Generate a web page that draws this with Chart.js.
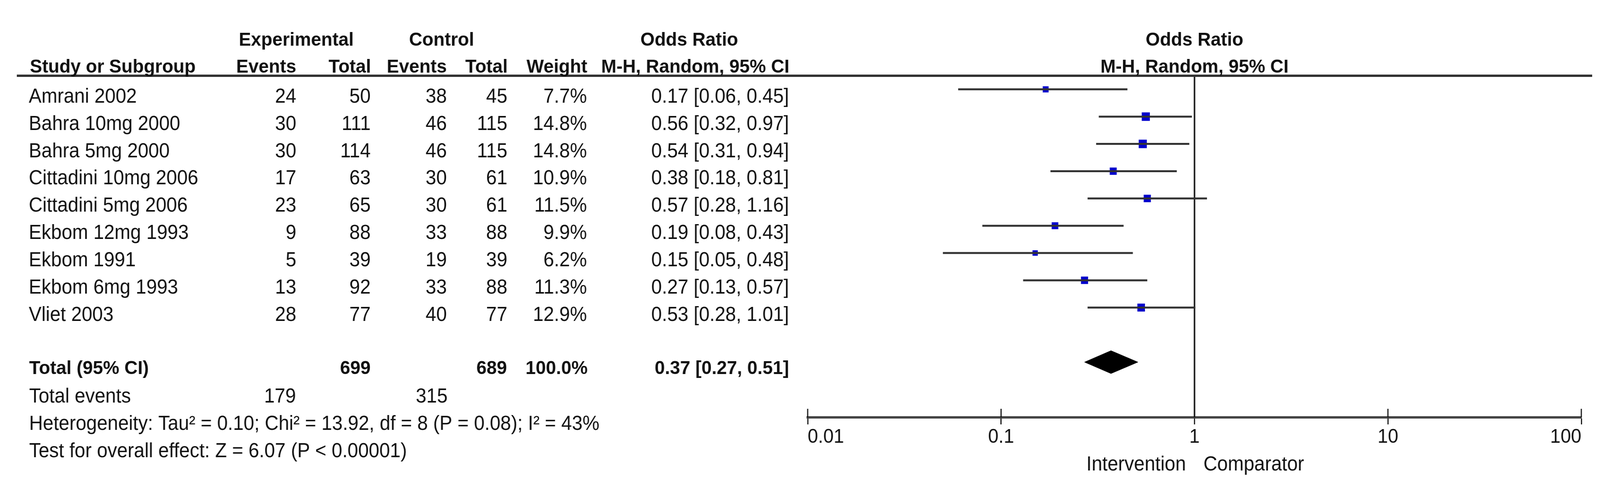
<!DOCTYPE html>
<html>
<head>
<meta charset="utf-8">
<script src="https://cdn.jsdelivr.net/npm/chart.js@4.4.1/dist/chart.umd.min.js"></script>
<style>
  html, body { margin: 0; padding: 0; background: #fff; overflow: hidden; }
  canvas { display: block; }
</style>
</head>
<body>
<canvas id="forest" width="4283" height="1255" style="width:100vw;height:100vh"></canvas>
<script>
// Forest plot data
const studies = ['Amrani 2002', 'Bahra 10mg 2000', 'Bahra 5mg 2000', 'Cittadini 10mg 2006',
  'Cittadini 5mg 2006', 'Ekbom 12mg 1993', 'Ekbom 1991', 'Ekbom 6mg 1993', 'Vliet 2003'];
const expEvents = [24, 30, 30, 17, 23, 9, 5, 13, 28];
const expTotal = [50, 111, 114, 63, 65, 88, 39, 92, 77];
const ctrlEvents = [38, 46, 46, 30, 30, 33, 19, 33, 40];
const ctrlTotal = [45, 115, 115, 61, 61, 88, 39, 88, 77];
const weights = [7.7, 14.8, 14.8, 10.9, 11.5, 9.9, 6.2, 11.3, 12.9];
const orEst = [0.17, 0.56, 0.54, 0.38, 0.57, 0.19, 0.15, 0.27, 0.53];
const orLow = [0.06, 0.32, 0.31, 0.18, 0.28, 0.08, 0.05, 0.13, 0.28];
const orHigh = [0.45, 0.97, 0.94, 0.81, 1.16, 0.43, 0.48, 0.57, 1.01];

// pooled estimate [est, low, high] and totals
const pooled = [0.37, 0.27, 0.51];
const totalsRow = ['699', '689', '100.0%'];
const totalEvents = ['179', '315'];
const heterogeneity = 'Heterogeneity: Tau\u00b2 = 0.10; Chi\u00b2 = 13.92, df = 8 (P = 0.08); I\u00b2 = 43%';
const overallEffect = 'Test for overall effect: Z = 6.07 (P < 0.00001)';

const xTicks = [0.01, 0.1, 1, 10, 100];
const xTickLabels = ['0.01', '0.1', '1', '10', '100'];

const FONT = "'Liberation Sans', Arial, sans-serif";
const TOTAL_ROW = 10;

const fmt = v => v.toFixed(2);

function text(ctx, s, x, y, align, bold) {
    ctx.font = bold ? 'bold 49px ' + FONT : '51px ' + FONT;
    ctx.textAlign = align;
    ctx.textBaseline = 'alphabetic';
    ctx.fillStyle = '#111';
    ctx.fillText(s, x, y);
}

// Draws the table on the left, header rule, line of no effect
const tablePlugin = {
    id: 'forestTable',
    beforeDraw(chart) {
        const ctx = chart.ctx;
        ctx.save();
        ctx.fillStyle = '#fff';
        ctx.fillRect(0, 0, chart.width, chart.height);
        ctx.restore();
    },
    beforeDatasetsDraw(chart) {
        const ctx = chart.ctx;
        const xs = chart.scales.x;
        const area = chart.chartArea;
        const x1 = xs.getPixelForValue(1);
        ctx.save();
        // line of no effect
        ctx.strokeStyle = '#111';
        ctx.lineWidth = 4;
        ctx.beginPath();
        ctx.moveTo(x1, area.top);
        ctx.lineTo(x1, area.bottom);
        ctx.stroke();
        // tick marks above the axis
        ctx.strokeStyle = '#111';
        ctx.lineWidth = 3;
        xTicks.forEach(v => {
            const px = xs.getPixelForValue(v);
            ctx.beginPath();
            ctx.moveTo(px, area.bottom);
            ctx.lineTo(px, area.bottom - 22);
            ctx.stroke();
        });
        ctx.restore();
    },
    afterDraw(chart) {
        const ctx = chart.ctx;
        const xs = chart.scales.x;
        const ys = chart.scales.y;
        const area = chart.chartArea;
        const x1 = xs.getPixelForValue(1);
        const base = i => ys.getPixelForValue(i) + 34;
        ctx.save();

        // header rule
        ctx.strokeStyle = '#333';
        ctx.lineWidth = 6;
        ctx.beginPath();
        ctx.moveTo(45, area.top);
        ctx.lineTo(4262, area.top);
        ctx.stroke();

        // headers
        text(ctx, 'Experimental', 793, 117, 'center', true);
        text(ctx, 'Control', 1182, 117, 'center', true);
        text(ctx, 'Odds Ratio', 1845, 117, 'center', true);
        text(ctx, 'Odds Ratio', x1, 117, 'center', true);
        text(ctx, 'Study or Subgroup', 80, 186, 'left', true);
        text(ctx, 'Events', 793, 186, 'right', true);
        text(ctx, 'Total', 993, 186, 'right', true);
        text(ctx, 'Events', 1196, 186, 'right', true);
        text(ctx, 'Total', 1359, 186, 'right', true);
        text(ctx, 'Weight', 1572, 186, 'right', true);
        text(ctx, 'M-H, Random, 95% CI', 2113, 186, 'right', true);
        text(ctx, 'M-H, Random, 95% CI', x1, 186, 'center', true);

        // study rows
        studies.forEach((s, i) => {
            const b = base(i);
            text(ctx, s, 77, b, 'left', false);
            text(ctx, String(expEvents[i]), 793, b, 'right', false);
            text(ctx, String(expTotal[i]), 992, b, 'right', false);
            text(ctx, String(ctrlEvents[i]), 1196, b, 'right', false);
            text(ctx, String(ctrlTotal[i]), 1358, b, 'right', false);
            text(ctx, weights[i].toFixed(1) + '%', 1571, b, 'right', false);
            text(ctx, fmt(orEst[i]) + ' [' + fmt(orLow[i]) + ', ' + fmt(orHigh[i]) + ']', 2112, b, 'right', false);
        });

        // total row
        const bt = base(TOTAL_ROW) - 3;
        text(ctx, 'Total (95% CI)', 78, bt, 'left', true);
        text(ctx, totalsRow[0], 992, bt, 'right', true);
        text(ctx, totalsRow[1], 1357, bt, 'right', true);
        text(ctx, totalsRow[2], 1573, bt, 'right', true);
        text(ctx, fmt(pooled[0]) + ' [' + fmt(pooled[1]) + ', ' + fmt(pooled[2]) + ']', 2112, bt, 'right', true);

        text(ctx, 'Total events', 78, base(11), 'left', false);
        text(ctx, totalEvents[0], 792, base(11), 'right', false);
        text(ctx, totalEvents[1], 1198, base(11), 'right', false);
        text(ctx, heterogeneity, 78, base(12), 'left', false);
        text(ctx, overallEffect, 78, base(13), 'left', false);

        // favours labels under the axis
        text(ctx, 'Intervention', x1 - 23, 1205, 'right', false);
        text(ctx, 'Comparator', x1 + 24, 1205, 'left', false);
        ctx.restore();
    }
};

// confidence interval segments, one per study
const ciSets = studies.map((s, i) => ({
    type: 'line',
    label: s,
    data: [{ x: orLow[i], y: i }, { x: orHigh[i], y: i }],
    borderColor: '#333',
    borderWidth: 5,
    pointRadius: 0,
    fill: false
}));

const ctx = document.getElementById('forest');
new Chart(ctx, {
    type: 'scatter',
    data: {
        datasets: [
            ...ciSets,
            {
                type: 'scatter',
                label: 'Estimate',
                data: orEst.map((v, i) => ({ x: v, y: i })),
                pointStyle: 'rect',
                pointRadius: weights.map(w => 4.0 * Math.sqrt(w)),
                backgroundColor: '#0000cc',
                borderWidth: 0
            },
            {
                type: 'line',
                label: 'Pooled',
                data: [
                    { x: pooled[1], y: TOTAL_ROW },
                    { x: pooled[0], y: TOTAL_ROW - 0.42 },
                    { x: pooled[2], y: TOTAL_ROW },
                    { x: pooled[0], y: TOTAL_ROW + 0.42 },
                    { x: pooled[1], y: TOTAL_ROW }
                ],
                borderColor: '#000',
                backgroundColor: '#000',
                borderWidth: 1,
                pointRadius: 0,
                tension: 0,
                fill: 'shape'
            }
        ]
    },
    options: {
        responsive: false,
        animation: false,
        devicePixelRatio: 1,
        layout: {
            padding: { left: 2162, right: 50, top: 194, bottom: 102 }
        },
        plugins: {
            legend: { display: false },
            tooltip: { enabled: false }
        },
        scales: {
            x: {
                type: 'logarithmic',
                min: 0.01,
                max: 100,
                afterBuildTicks: scale => {
                    scale.ticks = xTicks.map(v => ({ value: v }));
                },
                border: { display: true, color: '#444', width: 6 },
                grid: {
                    display: true,
                    drawOnChartArea: false,
                    drawTicks: true,
                    tickLength: 18,
                    tickWidth: 3,
                    tickColor: '#111'
                },
                ticks: {
                    autoSkip: false,
                    maxRotation: 0,
                    align: 'inner',
                    padding: 3,
                    color: '#111',
                    font: { family: FONT, size: 50 },
                    callback: (v, i) => xTickLabels[i]
                }
            },
            y: {
                type: 'linear',
                display: false,
                reverse: true,
                min: -0.499,
                max: 12.026
            }
        }
    },
    plugins: [tablePlugin]
});
</script>
</body>
</html>
